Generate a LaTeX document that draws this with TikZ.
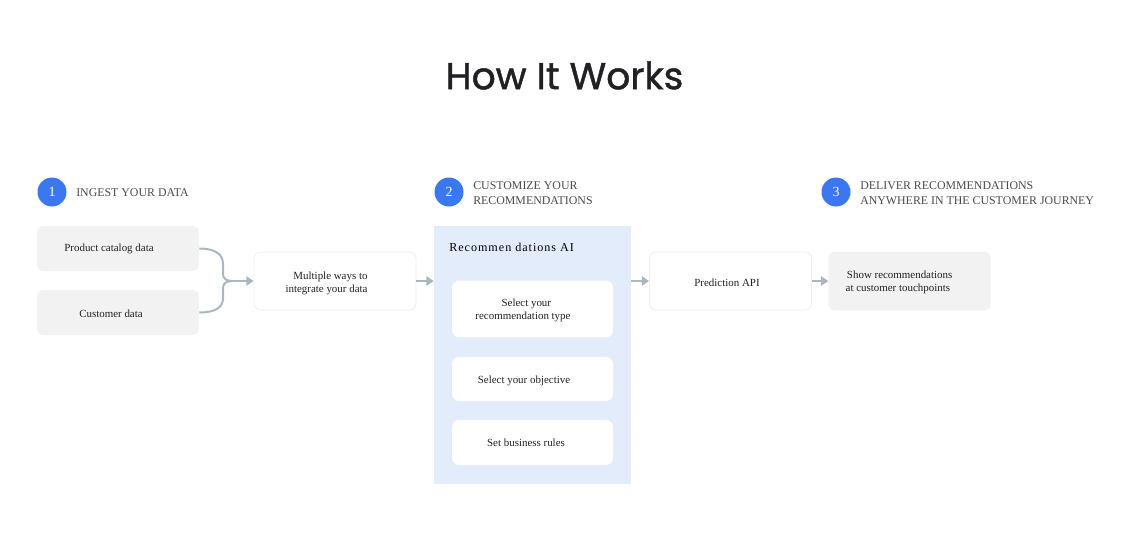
\documentclass[tikz,border=0pt]{standalone}
\usepackage{fontspec}
\usetikzlibrary{arrows.meta}
\setmainfont{Liberation Serif}
\newfontfamily\titlefont[FakeBold = 1.2]{Poppins}
\newfontfamily\digitfont{Liberation Serif}
\definecolor{linkgray}{HTML}{A9B8BF}
\definecolor{edgegray}{HTML}{ECEEF0}
\definecolor{boxgray}{HTML}{F2F2F2}
\definecolor{panelblue}{HTML}{E3ECFB}
\definecolor{stepblue}{HTML}{3B78F0}
\definecolor{headgray}{HTML}{4A4A4A}
\definecolor{inktext}{HTML}{202124}

\begin{document}
\begin{tikzpicture}[x = 0.75pt, y = -0.75pt]
\tikzstyle{plain} = [shape = rectangle, rounded corners = 5pt, inner sep = 0pt, minimum width = 121.5pt]
\tikzstyle{white box} = [plain, draw = edgegray, line width = 0.6pt, fill = white]
\tikzstyle{gray box} = [plain, fill = boxgray]
\tikzstyle{step mark} = [shape = circle, fill = stepblue, text = white, minimum size = 21.75pt, inner sep = 0pt, font = \digitfont\fontsize{10.5}{12}\selectfont]
\tikzstyle{head} = [anchor = west, align = left, inner sep = 0pt, text = headgray, font = \fontsize{8.9}{11.2}\selectfont]
\tikzstyle{body} = [inner sep = 0pt, text = inktext, font = \fontsize{8.2}{9.9}\selectfont]
\tikzstyle{link} = [draw = linkgray, line width = 1.5pt]
\tikzstyle{arrow} = [link, -{Triangle[length = 5.5pt, width = 7pt]}]
\useasboundingbox (0, 0) rectangle (1146, 553);
\node[inner sep = 0pt, text = inktext, font = \titlefont\fontsize{28.2}{36}\selectfont] (title) at (564.5, 75.5) {How It Works};
% step headers
\node[step mark] (mark-1) at (52, 192) {1};
\node[step mark] (mark-2) at (449, 192) {2};
\node[step mark] (mark-3) at (836, 192) {3};
\node[head] (head-1) at (76, 192.5) {INGEST YOUR DATA};
\node[head] (head-2) at (473, 193) {CUSTOMIZE YOUR\\RECOMMENDATIONS};
\node[head] (head-3) at (860, 193) {DELIVER RECOMMENDATIONS\\ANYWHERE IN THE CUSTOMER JOURNEY};
% boxes
\node[gray box, minimum height = 33.75pt] (product) at (118, 248.5) {};
\node[gray box, minimum height = 33.75pt] (customer) at (118, 312.5) {};
\node[white box, minimum height = 43.5pt] (multiple) at (335, 281) {};
\node[shape = rectangle, fill = panelblue, inner sep = 0pt, minimum width = 147.75pt, minimum height = 193.5pt] (panel) at (532.5, 355) {};
\node[plain, fill = white, minimum width = 120.5pt, minimum height = 42.5pt] (type) at (532.5, 309) {};
\node[plain, fill = white, minimum width = 120.5pt, minimum height = 33pt] (objective) at (532.5, 379) {};
\node[plain, fill = white, minimum width = 120.5pt, minimum height = 33.75pt] (rules) at (532.5, 442.5) {};
\node[white box, minimum height = 43.5pt] (predict) at (730.5, 281) {};
\node[gray box, draw = edgegray, line width = 0.3pt, minimum height = 43.5pt] (show) at (909.5, 281) {};
% texts
\node[body] (product-text) at (109, 249) {Product catalog data};
\node[body] (customer-text) at (111, 314) {Customer data};
\node[body, align = center] (multiple-text) at (326.5, 283) {\hspace*{6pt}Multiple ways to\\integrate your data};
\node[anchor = west, inner sep = 0pt, text = black, font = \addfontfeature{LetterSpace = 8}\fontsize{9.1}{11}\selectfont] (panel-text) at (449, 247) {Recommen dations AI};
\node[body, align = center] (type-text) at (523, 310) {\hspace*{5pt}Select your\\recommendation type};
\node[body] (objective-text) at (524, 380.5) {Select your objective};
\node[body] (rules-text) at (526, 443) {Set business rules};
\node[body] (predict-text) at (727, 282.5) {Prediction API};
\node[body, align = left] (show-text) at (899, 282.5) {\hspace*{1pt}Show recommendations\\at customer touchpoints};
% connectors
\coordinate (merge) at (232, 281);
\draw[link] (product.east) .. controls +(17, 0) and +(0, -9) .. (223, 264) -- (223, 274) .. controls +(0, 5) and +(-5, 0) .. (merge);
\draw[link] (customer.east) .. controls +(17, 0) and +(0, 9) .. (223, 298) -- (223, 288) .. controls +(0, -5) and +(-5, 0) .. (merge);
\draw[arrow] (merge) -- (multiple.west);
\draw[arrow] (multiple.east) -- (multiple -| panel.west);
\draw[arrow] (predict -| panel.east) -- (predict.west);
\draw[arrow] (predict.east) -- (show.west);
\end{tikzpicture}
\end{document}
